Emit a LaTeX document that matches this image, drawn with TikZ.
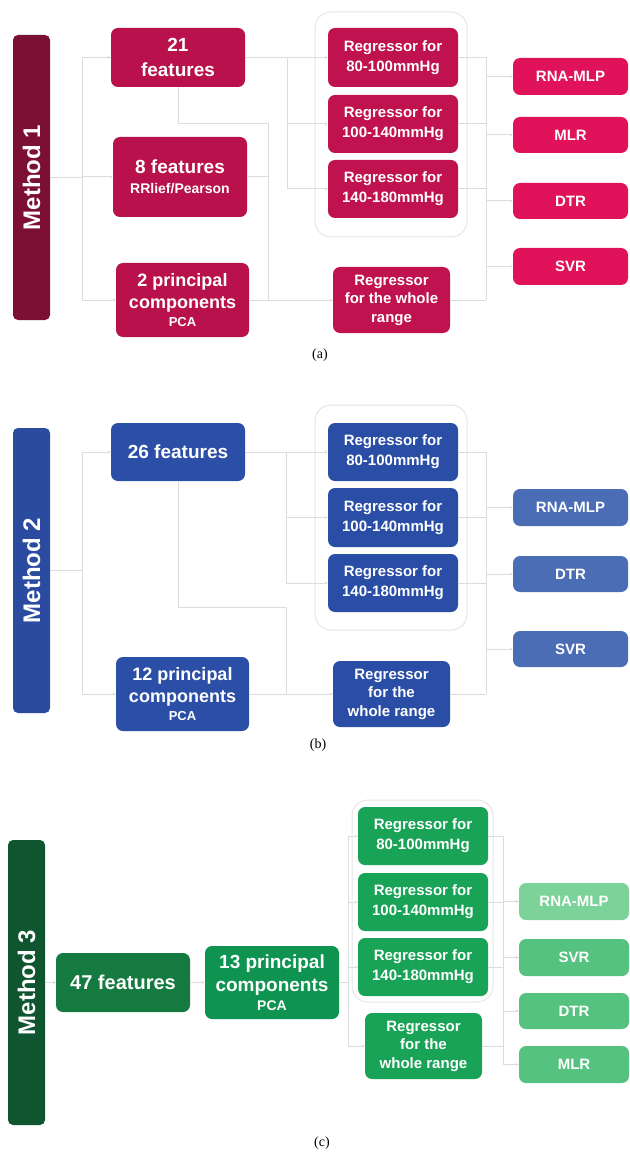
\documentclass[tikz,border=0pt]{standalone}
\usepackage{fontspec}
\usepackage{graphicx}
\setmainfont{Liberation Sans}
\newfontfamily\capfont{Liberation Serif}
\usetikzlibrary{arrows.meta}
\definecolor{linegray}{HTML}{DCDCDC}
\definecolor{contgray}{HTML}{E6E6E6}
\definecolor{aBar}{HTML}{7C1034}
\definecolor{aLeft}{HTML}{B8114B}
\definecolor{aReg}{HTML}{C0124F}
\definecolor{aRight}{HTML}{E0135A}
\definecolor{bBar}{HTML}{2A4B9F}
\definecolor{bLeft}{HTML}{2B4FA6}
\definecolor{bReg}{HTML}{2A4EA6}
\definecolor{bRight}{HTML}{4B6DB6}
\definecolor{cBar}{HTML}{0E5530}
\definecolor{cFeat}{HTML}{147A3F}
\definecolor{cPca}{HTML}{0F9350}
\definecolor{cReg}{HTML}{19A356}
\definecolor{cRna}{HTML}{7CD39A}
\definecolor{cRight}{HTML}{55C27F}
\begin{document}
\begin{tikzpicture}[x=1pt,y=-1pt,
  box/.style={rounded corners=7pt, text=white, align=center, inner sep=0pt,
    font=\bfseries\fontsize{15}{20}\selectfont},
  sz/.style 2 args={minimum width=#1pt, minimum height=#2pt},
  big/.style={font=\bfseries\fontsize{19}{23}\selectfont},
  wide/.style={font=\bfseries\fontsize{15}{18.5}\selectfont},
  barbox/.style={rounded corners=5pt, text=white, inner sep=0pt,
    font=\bfseries\fontsize{24}{28}\selectfont, minimum width=37pt, minimum height=285pt},
  cont/.style={draw=contgray, line width=1pt, rounded corners=16pt},
  line/.style={draw=linegray, line width=1pt},
  arr/.style={line, -{Stealth[length=3pt,width=3pt]}},
  capt/.style={font=\capfont\fontsize{14}{16}\selectfont, inner sep=0pt}]
\useasboundingbox[fill=white] (0,0) rectangle (629,1155);

% ---------------- containers ----------------
\draw[cont] (315,12) rectangle (467,237);
\draw[cont] (315,405) rectangle (467,630);
\draw[cont] (352,800) rectangle (493,1002);

% ---------------- panel (a) ----------------
\node[barbox, fill=aBar] (m1) at (31.5,177.5) {\rotatebox{90}{Method 1}};
\node[box, fill=aLeft, sz={134}{59}, font=\bfseries\fontsize{19}{25}\selectfont] (f21) at (178,57.5) {21\\features};
\node[box, big, fill=aLeft, sz={134}{80}] (f8) at (180,177) {8 features\\[-3pt]{\fontsize{14}{17}\selectfont RRlief/Pearson}};
\node[box, fill=aLeft, sz={133}{74}, font=\bfseries\fontsize{18}{22}\selectfont] (pc2) at (182.5,300) {2 principal\\components\\[-4pt]{\fontsize{13}{15}\selectfont PCA}};
\node[box, fill=aReg, sz={130}{59}] (r1a) at (393,57.5) {Regressor for\\80-100mmHg};
\node[box, fill=aReg, sz={130}{58}] (r2a) at (393,124) {Regressor for\\100-140mmHg};
\node[box, fill=aReg, sz={130}{58}] (r3a) at (393,189) {Regressor for\\140-180mmHg};
\node[box, wide, fill=aReg, sz={117}{66}] (rwa) at (391.5,300) {Regressor\\for the whole\\range};
\node[box, fill=aRight, sz={115}{37}] (o1a) at (570.5,76.5) {RNA-MLP};
\node[box, fill=aRight, sz={115}{36}] (o2a) at (570.5,135) {MLR};
\node[box, fill=aRight, sz={115}{36}] (o3a) at (570.5,201) {DTR};
\node[box, fill=aRight, sz={115}{37}] (o4a) at (570.5,266.5) {SVR};
\node[capt] (capa) at (320,355) {(a)};

\coordinate (aL) at (82,0);
\coordinate (aM) at (287,0);
\coordinate (aJ) at (268,124);
\coordinate (aR) at (486,0);
\draw[line] (m1.east) -- (m1.east -| aL);
\draw[line] (aL |- f21.west) -- (aL |- pc2.west);
\foreach \n in {f21,f8,pc2} \draw[arr] (aL |- \n.west) -- (\n.west);
\draw[line] (f21.east) -- (f21.east -| aM);
\draw[line] (aM |- r1a.west) -- (aM |- r3a.west);
\foreach \n in {r1a,r2a,r3a} \draw[arr] (aM |- \n.west) -- (\n.west);
\draw[line] (f21.south) |- (aJ) -- (aJ |- pc2.east);
\draw[line] (f8.east) -- (f8.east -| aJ);
\draw[arr] (pc2.east) -- (rwa.west);
\foreach \n in {r1a,r2a,r3a,rwa} \draw[line] (\n.east) -- (\n.east -| aR);
\draw[line] (aR |- r1a.east) -- (aR |- rwa.east);
\foreach \n in {o1a,o2a,o3a,o4a} \draw[arr] (aR |- \n.west) -- (\n.west);

% ---------------- panel (b) ----------------
\node[barbox, fill=bBar] (m2) at (31.5,570.5) {\rotatebox{90}{Method 2}};
\node[box, big, fill=bLeft, sz={134}{58}] (f26) at (178,452) {26 features};
\node[box, fill=bLeft, sz={133}{74}, font=\bfseries\fontsize{18}{22}\selectfont] (pc12) at (182.5,694) {12 principal\\components\\[-4pt]{\fontsize{13}{15}\selectfont PCA}};
\node[box, fill=bReg, sz={130}{58}] (r1b) at (393,452) {Regressor for\\80-100mmHg};
\node[box, fill=bReg, sz={130}{59}] (r2b) at (393,517.5) {Regressor for\\100-140mmHg};
\node[box, fill=bReg, sz={130}{58}] (r3b) at (393,583) {Regressor for\\140-180mmHg};
\node[box, wide, fill=bReg, sz={117}{66}] (rwb) at (391.5,694) {Regressor\\for the\\whole range};
\node[box, fill=bRight, sz={115}{37}] (o1b) at (570.5,507.5) {RNA-MLP};
\node[box, fill=bRight, sz={115}{36}] (o2b) at (570.5,574) {DTR};
\node[box, fill=bRight, sz={115}{36}] (o3b) at (570.5,649) {SVR};
\node[capt] (capb) at (318,745) {(b)};

\coordinate (bL) at (82,0);
\coordinate (bM) at (286,0);
\coordinate (bJ) at (286,607);
\coordinate (bR) at (486,0);
\draw[line] (m2.east) -- (m2.east -| bL);
\draw[line] (bL |- f26.west) -- (bL |- pc12.west);
\foreach \n in {f26,pc12} \draw[arr] (bL |- \n.west) -- (\n.west);
\draw[line] (f26.east) -- (f26.east -| bM);
\draw[line] (bM |- r1b.west) -- (bM |- r3b.west);
\foreach \n in {r1b,r2b,r3b} \draw[arr] (bM |- \n.west) -- (\n.west);
\draw[line] (f26.south) |- (bJ) -- (bJ |- pc12.east);
\draw[arr] (pc12.east) -- (rwb.west);
\foreach \n in {r1b,r2b,r3b,rwb} \draw[line] (\n.east) -- (\n.east -| bR);
\draw[line] (bR |- r1b.east) -- (bR |- rwb.east);
\foreach \n in {o1b,o2b,o3b} \draw[arr] (bR |- \n.west) -- (\n.west);

% ---------------- panel (c) ----------------
\node[barbox, fill=cBar] (m3) at (26.5,982.5) {\rotatebox{90}{Method 3}};
\node[box, fill=cFeat, sz={134}{59}, font=\bfseries\fontsize{20}{24}\selectfont] (f47) at (123,982.5) {47 features};
\node[box, fill=cPca, sz={134}{73}, font=\bfseries\fontsize{19}{23}\selectfont] (pc13) at (272,982.5) {13 principal\\components\\[-4pt]{\fontsize{14}{16}\selectfont PCA}};
\node[box, fill=cReg, sz={130}{58}] (r1c) at (423,836) {Regressor for\\80-100mmHg};
\node[box, fill=cReg, sz={130}{58}] (r2c) at (423,902) {Regressor for\\100-140mmHg};
\node[box, fill=cReg, sz={130}{58}] (r3c) at (423,967) {Regressor for\\140-180mmHg};
\node[box, wide, fill=cReg, sz={117}{66}] (rwc) at (423.5,1046) {Regressor\\for the\\whole range};
\node[box, fill=cRna, sz={110}{37}] (o1c) at (574,901.5) {RNA-MLP};
\node[box, fill=cRight, sz={110}{37}] (o2c) at (574,957.5) {SVR};
\node[box, fill=cRight, sz={110}{36}] (o3c) at (574,1011) {DTR};
\node[box, fill=cRight, sz={110}{37}] (o4c) at (574,1064.5) {MLR};
\node[capt] (capc) at (322,1143) {(c)};

\coordinate (cL) at (348,0);
\coordinate (cR) at (503,0);
\draw[arr] (m3.east) -- (f47.west);
\draw[arr] (f47.east) -- (pc13.west);
\draw[line] (pc13.east) -- (pc13.east -| cL);
\draw[line] (cL |- r1c.west) -- (cL |- rwc.west);
\foreach \n in {r1c,r2c,r3c,rwc} \draw[arr] (cL |- \n.west) -- (\n.west);
\foreach \n in {r1c,r2c,r3c,rwc} \draw[line] (\n.east) -- (\n.east -| cR);
\draw[line] (cR |- r1c.east) -- (cR |- o4c.west);
\foreach \n in {o1c,o2c,o3c,o4c} \draw[arr] (cR |- \n.west) -- (\n.west);
\end{tikzpicture}
\end{document}
